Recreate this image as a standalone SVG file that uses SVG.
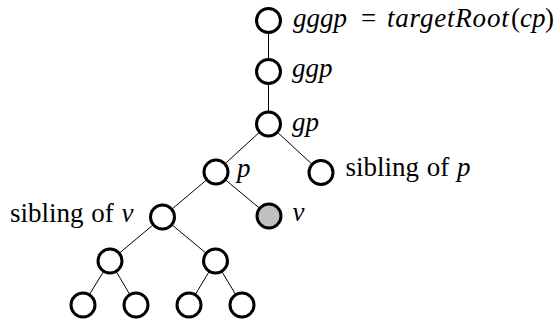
<svg xmlns="http://www.w3.org/2000/svg" width="554" height="325" viewBox="0 0 554 325">
<style>
.n{fill:#fff;stroke:#000;stroke-width:3}
.g{fill:#c0c0c0}
.e line{stroke:#000;stroke-width:1}
</style>
<rect width="554" height="325" fill="#fff"/>
<g class="e" id="edges">
<line x1="268.5" y1="20.5" x2="268.5" y2="71.5"/>
<line x1="268.5" y1="71.5" x2="268.5" y2="124"/>
<line x1="268.5" y1="124" x2="216" y2="172"/>
<line x1="268.5" y1="124" x2="321" y2="172.5"/>
<line x1="216" y1="172" x2="162.5" y2="217"/>
<line x1="216" y1="172" x2="269" y2="216"/>
<line x1="162.5" y1="217" x2="110" y2="261"/>
<line x1="162.5" y1="217" x2="215.5" y2="261"/>
<line x1="110" y1="261" x2="83" y2="305"/>
<line x1="110" y1="261" x2="136" y2="305"/>
<line x1="215.5" y1="261" x2="189" y2="305"/>
<line x1="215.5" y1="261" x2="242" y2="305"/>
</g>
<g id="gggp"><circle class="n" cx="268.5" cy="20.5" r="12"/>
<text x="293" y="26.5" font-size="27" font-family="'Liberation Serif', 'Times New Roman', Tinos, serif"><tspan font-style="italic">gggp</tspan><tspan x="361">=</tspan><tspan x="387" font-style="italic" letter-spacing="0.8">targetRoot</tspan><tspan x="511">(</tspan><tspan x="520" font-style="italic">cp</tspan><tspan x="545">)</tspan></text></g>
<g id="ggp"><circle class="n" cx="268.5" cy="71.5" r="12"/>
<text x="292" y="77" font-size="27" font-family="'Liberation Serif', 'Times New Roman', Tinos, serif" font-style="italic">ggp</text></g>
<g id="gp"><circle class="n" cx="268.5" cy="124" r="12"/>
<text x="292" y="131" font-size="27" font-family="'Liberation Serif', 'Times New Roman', Tinos, serif" font-style="italic">gp</text></g>
<g id="p"><circle class="n" cx="216" cy="172" r="12"/>
<text x="237" y="177" font-size="27" font-family="'Liberation Serif', 'Times New Roman', Tinos, serif" font-style="italic">p</text></g>
<g id="sibling-p"><circle class="n" cx="321" cy="172.5" r="12"/>
<text x="345.5" y="176" font-size="27" font-family="'Liberation Serif', 'Times New Roman', Tinos, serif" word-spacing="1">sibling of <tspan font-style="italic">p</tspan></text></g>
<g id="sibling-v"><circle class="n" cx="162.5" cy="217" r="12"/>
<text x="10" y="222" font-size="27" font-family="'Liberation Serif', 'Times New Roman', Tinos, serif" word-spacing="1">sibling of <tspan font-style="italic">v</tspan></text></g>
<g id="v"><circle class="n g" cx="269" cy="216" r="12"/>
<text x="292.5" y="221" font-size="27" font-family="'Liberation Serif', 'Times New Roman', Tinos, serif" font-style="italic">v</text></g>
<g id="n4a"><circle class="n" cx="110" cy="261" r="12"/></g>
<g id="n4b"><circle class="n" cx="215.5" cy="261" r="12"/></g>
<g id="n5a"><circle class="n" cx="83" cy="305" r="12"/></g>
<g id="n5b"><circle class="n" cx="136" cy="305" r="12"/></g>
<g id="n5c"><circle class="n" cx="189" cy="305" r="12"/></g>
<g id="n5d"><circle class="n" cx="242" cy="305" r="12"/></g>
</svg>
